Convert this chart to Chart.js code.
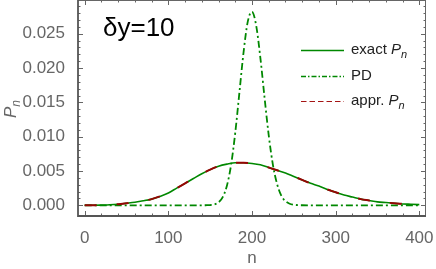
<!DOCTYPE html>
<html>
<head>
<meta charset="utf-8">
<script src="https://cdn.jsdelivr.net/npm/chart.js@4.4.1/dist/chart.umd.min.js"></script>
<style>
  html, body { margin: 0; padding: 0; background: #fff; }
</style>
</head>
<body>
<canvas id="chart" width="436" height="269"></canvas>
<script>
// exact P_n (and the approximation, which lies on top of it)
const nExact = [0, 10, 20, 30, 40, 50, 60, 70, 80, 90, 100, 110, 120, 130, 140, 150, 160, 170, 180, 190,
                200, 210, 220, 230, 240, 250, 260, 270, 280, 290, 300, 310, 320, 330, 340, 350, 360, 370, 380, 390, 400];
const pExact = [0.0000, 0.00001, 0.00003, 0.00007, 0.00016, 0.0003, 0.00045, 0.00065, 0.0009, 0.0013, 0.0018,
                0.0025, 0.0032, 0.0039, 0.0046, 0.0052, 0.0057, 0.0060, 0.0062, 0.0062,
                0.0061, 0.0059, 0.0055, 0.0051, 0.0047, 0.0042, 0.0037, 0.0032, 0.0028, 0.0023,
                0.0019, 0.0015, 0.0012, 0.0009, 0.0007, 0.0005, 0.0004, 0.0003, 0.0002, 0.00015, 0.0001];
const pAppr  = [0.0000, 0.00001, 0.00003, 0.00007, 0.00016, 0.0003, 0.00045, 0.00065, 0.0009, 0.0013, 0.0018,
                0.0025, 0.0032, 0.0039, 0.0046, 0.0052, 0.0057, 0.0060, 0.0062, 0.0062,
                0.0061, 0.0059, 0.0055, 0.0051, 0.0047, 0.0042, 0.0037, 0.0032, 0.0028, 0.0023,
                0.0019, 0.0015, 0.0012, 0.0009, 0.0007, 0.0005, 0.0004, 0.0003, 0.0002, 0.00015, 0.0001];

// PD curve
const nPD = [0, 100, 140, 145, 150, 155, 160, 165, 170, 175, 180, 185, 190, 195, 200,
             205, 210, 215, 220, 225, 230, 235, 240, 245, 250, 255, 260, 300, 400];
const pPD = [0, 0, 0.000001, 0.000008, 0.000035, 0.00013, 0.00043, 0.0012, 0.00285, 0.0059, 0.0106, 0.0165,
             0.0224, 0.0268, 0.0282, 0.0262, 0.0215, 0.0157, 0.0102, 0.0059, 0.0031, 0.0014,
             0.0006, 0.00023, 0.00008, 0.00002, 0.000005, 0, 0];

const xTicks = [0, 100, 200, 300, 400];
const yTicks = [0, 0.005, 0.010, 0.015, 0.020, 0.025];

const green = 'rgb(0,136,0)';
const darkRed = 'rgb(150,5,5)';
const gray = '#666';
const fontFam = '"Liberation Sans", Arial, sans-serif';

const pts = (xs, ys) => xs.map((x, i) => ({x: x, y: ys[i]}));

const data = {
    datasets: [{
        label: 'exact',
        data: pts(nExact, pExact),
        borderColor: green,
        borderWidth: 1.6,
        order: 3,
        cubicInterpolationMode: 'monotone'
    }, {
        label: 'PD',
        data: pts(nPD, pPD),
        borderColor: green,
        borderWidth: 1.8,
        borderDash: [7, 3, 2, 3],
        order: 2,
        cubicInterpolationMode: 'monotone'
    }, {
        label: 'appr',
        data: pts(nExact, pAppr),
        borderColor: darkRed,
        borderWidth: 2,
        borderDash: [12, 20],
        order: 1,
        cubicInterpolationMode: 'monotone'
    }]
};

// frame, inside ticks, annotations and legend
const framePlugin = {
    id: 'frame',
    afterDraw(chart) {
        const {ctx, chartArea: a, scales: {x, y}} = chart;
        ctx.save();

        // ticks
        ctx.strokeStyle = gray;
        ctx.lineWidth = 1;
        const tick = (v, len, axis) => {
            ctx.beginPath();
            if (axis === 'x') {
                const px = Math.round(x.getPixelForValue(v)) + 0.5;
                ctx.moveTo(px, a.bottom); ctx.lineTo(px, a.bottom - len);
                ctx.moveTo(px, a.top); ctx.lineTo(px, a.top + len);
            } else {
                const py = Math.round(y.getPixelForValue(v)) + 0.5;
                ctx.moveTo(a.left, py); ctx.lineTo(a.left + len, py);
                ctx.moveTo(a.right, py); ctx.lineTo(a.right - len, py);
            }
            ctx.stroke();
        };
        for (let v = 0; v <= 400; v += 20) tick(v, v % 100 === 0 ? 5 : 2.5, 'x');
        for (let k = 0; k <= 29; k++) tick(k / 1000, k % 5 === 0 ? 5 : 2.5, 'y');

        // frame
        ctx.strokeStyle = '#666';
        ctx.lineWidth = 1;
        ctx.beginPath();
        ctx.moveTo(a.left, a.top + 0.5); ctx.lineTo(a.right, a.top + 0.5);
        ctx.moveTo(a.right - 0.5, a.top); ctx.lineTo(a.right - 0.5, a.bottom);
        ctx.stroke();
        ctx.strokeStyle = '#555';
        ctx.lineWidth = 1.8;
        ctx.beginPath();
        ctx.moveTo(a.left, a.top); ctx.lineTo(a.left, a.bottom); ctx.lineTo(a.right, a.bottom);
        ctx.stroke();

        // axis titles
        ctx.fillStyle = gray;
        ctx.font = '17px ' + fontFam;
        ctx.textAlign = 'center';
        ctx.textBaseline = 'alphabetic';
        ctx.fillText('n', (a.left + a.right) / 2, 263);

        ctx.save();
        ctx.translate(16, 118);
        ctx.rotate(-Math.PI / 2);
        ctx.textAlign = 'left';
        ctx.font = 'italic 17px ' + fontFam;
        ctx.fillText('P', 0, 0);
        const pw = ctx.measureText('P').width;
        ctx.font = 'italic 12px ' + fontFam;
        ctx.fillText('n', pw, 4);
        ctx.restore();

        // label
        ctx.fillStyle = '#000';
        ctx.textAlign = 'left';
        ctx.font = '26px ' + fontFam;
        ctx.fillText('\u03b4y=10', 103, 36);

        // legend
        const lx0 = 301, lx1 = 344, tx = 351;
        const rows = [
            {y: 50, color: green, dash: [], w: 1.6, text: 'exact ', sub: true},
            {y: 76, color: green, dash: [5, 2, 1.5, 2], w: 1.3, text: 'PD', sub: false},
            {y: 101, color: 'rgb(165,20,20)', dash: [5.5, 3], w: 1.2, text: 'appr. ', sub: true}
        ];
        rows.forEach((r) => {
            ctx.strokeStyle = r.color;
            ctx.lineWidth = r.w;
            ctx.setLineDash(r.dash);
            ctx.beginPath();
            ctx.moveTo(lx0, r.y + 0.5); ctx.lineTo(lx1, r.y + 0.5);
            ctx.stroke();
            ctx.setLineDash([]);
            ctx.fillStyle = '#222';
            ctx.textBaseline = 'middle';
            ctx.font = '15px ' + fontFam;
            ctx.fillText(r.text, tx, r.y);
            if (r.sub) {
                let w = ctx.measureText(r.text).width;
                ctx.font = 'italic 15px ' + fontFam;
                ctx.fillText('P', tx + w, r.y);
                w += ctx.measureText('P').width;
                ctx.font = 'italic 11px ' + fontFam;
                ctx.fillText('n', tx + w, r.y + 5);
            }
        });
        ctx.restore();
    }
};

const config = {
    type: 'line',
    data: data,
    options: {
        responsive: false,
        animation: false,
        layout: {padding: {top: 0, right: 10, left: 0, bottom: 0}},
        elements: {point: {radius: 0}},
        plugins: {legend: {display: false}, tooltip: {enabled: false}},
        scales: {
            x: {
                type: 'linear',
                min: -8,
                max: 408,
                grid: {display: false},
                border: {display: false},
                afterBuildTicks: (s) => { s.ticks = xTicks.map((v) => ({value: v})); },
                afterFit: (s) => { s.height = 53; s.paddingLeft = 0; s.paddingRight = 0; },
                ticks: {
                    color: gray,
                    padding: 4,
                    maxRotation: 0,
                    font: {family: fontFam, size: 17}
                }
            },
            y: {
                min: -0.00156,
                max: 0.02992,
                grid: {display: false},
                border: {display: false},
                afterBuildTicks: (s) => { s.ticks = yTicks.map((v) => ({value: v})); },
                afterFit: (s) => { s.width = 78; s.paddingTop = 0; s.paddingBottom = 0; },
                ticks: {
                    color: gray,
                    padding: 5,
                    font: {family: fontFam, size: 17},
                    callback: (v) => v.toFixed(3)
                }
            }
        }
    },
    plugins: [framePlugin]
};

new Chart(document.getElementById('chart'), config);
</script>
</body>
</html>
